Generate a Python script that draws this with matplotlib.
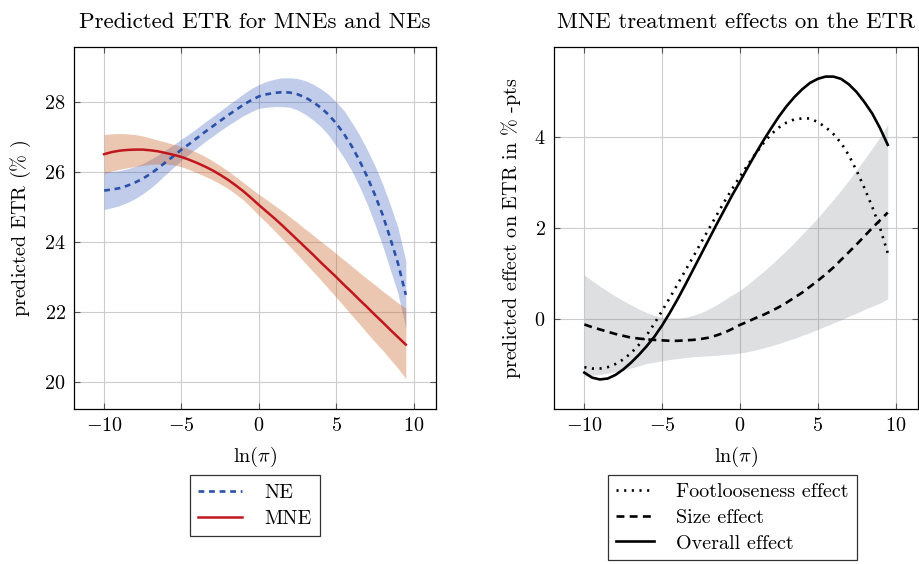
import numpy as np
import matplotlib
matplotlib.use("Agg")
import matplotlib.pyplot as plt

plt.rcParams['font.family'] = 'serif'
plt.rcParams['font.serif'] = ['cmr10', 'DejaVu Serif']
plt.rcParams['mathtext.fontset'] = 'cm'
plt.rcParams['axes.formatter.use_mathtext'] = True

COLOR_NE = '#2b52a8'
COLOR_MNE = '#c0161e'
FILL_NE = '#3f5fbf'
FILL_MNE = '#cc6a30'
FILL_SIZE = '#888c94'
FS = 14.5

# left panel: predicted ETR (steps of 0.5)
x_etr = [-10, -9.5, -9, -8.5, -8, -7.5, -7, -6.5, -6, -5.5, -5, -4.5, -4, -3.5, -3, -2.5,
         -2, -1.5, -1, -0.5, 0, 0.5, 1, 1.5, 2, 2.5, 3, 3.5, 4, 4.5, 5, 5.5, 6, 6.5, 7,
         7.5, 8, 8.5, 9, 9.5]
ne_mean = [25.47, 25.50, 25.54, 25.61, 25.70, 25.81, 25.95, 26.11, 26.29, 26.46, 26.64,
           26.80, 26.97, 27.14, 27.30, 27.46, 27.62, 27.77, 27.92, 28.05, 28.16, 28.22,
           28.26, 28.28, 28.27, 28.22, 28.13, 28.00, 27.84, 27.64, 27.39, 27.09, 26.74,
           26.33, 25.87, 25.35, 24.78, 24.10, 23.38, 22.49]
ne_upper = [26.01, 26.02, 26.04, 26.09, 26.16, 26.24, 26.36, 26.49, 26.64, 26.78, 26.94,
            27.09, 27.25, 27.42, 27.58, 27.74, 27.91, 28.07, 28.23, 28.38, 28.50, 28.59,
            28.65, 28.69, 28.69, 28.67, 28.61, 28.51, 28.38, 28.22, 28.00, 27.76, 27.42,
            27.06, 26.64, 26.18, 25.66, 25.06, 24.40, 23.46]
ne_lower = [24.93, 24.98, 25.04, 25.13, 25.24, 25.38, 25.54, 25.73, 25.94, 26.14, 26.34,
            26.51, 26.69, 26.86, 27.02, 27.18, 27.33, 27.47, 27.61, 27.72, 27.82, 27.85,
            27.87, 27.87, 27.85, 27.77, 27.65, 27.49, 27.30, 27.06, 26.74, 26.41, 26.04,
            25.59, 25.09, 24.51, 23.90, 23.21, 22.52, 21.53]
mne_mean = [26.51, 26.57, 26.61, 26.63, 26.64, 26.64, 26.62, 26.59, 26.54, 26.49, 26.43,
            26.35, 26.26, 26.16, 26.05, 25.92, 25.78, 25.62, 25.45, 25.26, 25.06, 24.87,
            24.68, 24.48, 24.27, 24.06, 23.85, 23.64, 23.42, 23.21, 23.00, 22.78, 22.57,
            22.35, 22.14, 21.92, 21.71, 21.49, 21.28, 21.07]
mne_upper = [27.07, 27.09, 27.10, 27.09, 27.07, 27.03, 26.97, 26.91, 26.85, 26.79, 26.73,
             26.65, 26.56, 26.45, 26.32, 26.18, 26.03, 25.87, 25.70, 25.53, 25.36, 25.21,
             25.05, 24.89, 24.72, 24.55, 24.37, 24.20, 24.02, 23.85, 23.67, 23.49, 23.31,
             23.13, 22.95, 22.78, 22.60, 22.43, 22.26, 22.11]
mne_lower = [25.96, 26.03, 26.08, 26.12, 26.16, 26.19, 26.22, 26.23, 26.23, 26.20, 26.15,
             26.07, 25.98, 25.88, 25.78, 25.66, 25.53, 25.37, 25.20, 24.99, 24.76, 24.55,
             24.33, 24.10, 23.87, 23.64, 23.40, 23.16, 22.92, 22.67, 22.42, 22.17, 21.91,
             21.66, 21.40, 21.15, 20.91, 20.65, 20.39, 20.10]

# right panel: treatment effects (same x steps)
x_eff = x_etr
foot_eff = [-1.06, -1.09, -1.09, -1.06, -0.99, -0.89, -0.75, -0.57, -0.36, -0.10, 0.18,
            0.47, 0.77, 1.07, 1.37, 1.68, 1.98, 2.28, 2.58, 2.86, 3.13, 3.39, 3.63, 3.86,
            4.06, 4.21, 4.32, 4.39, 4.41, 4.41, 4.33, 4.22, 4.07, 3.87, 3.60, 3.26, 2.88,
            2.47, 2.01, 1.45]
size_eff = [-0.12, -0.18, -0.23, -0.28, -0.33, -0.37, -0.41, -0.43, -0.45, -0.46, -0.47,
            -0.48, -0.48, -0.47, -0.46, -0.44, -0.41, -0.36, -0.30, -0.22, -0.13, -0.06,
            0.02, 0.09, 0.17, 0.26, 0.36, 0.47, 0.58, 0.71, 0.84, 0.98, 1.13, 1.30, 1.47,
            1.64, 1.82, 2.00, 2.17, 2.34]
size_upper = [0.97, 0.84, 0.72, 0.61, 0.50, 0.40, 0.31, 0.22, 0.14, 0.08, 0.04, 0.02,
              0.02, 0.04, 0.08, 0.14, 0.22, 0.31, 0.42, 0.53, 0.63, 0.76, 0.90, 1.04,
              1.19, 1.35, 1.51, 1.68, 1.86, 2.04, 2.22, 2.42, 2.62, 2.83, 3.05, 3.28,
              3.51, 3.75, 4.00, 4.28]
size_lower = [-1.26, -1.24, -1.22, -1.19, -1.16, -1.12, -1.08, -1.03, -0.98, -0.95, -0.92,
              -0.89, -0.87, -0.85, -0.83, -0.82, -0.81, -0.80, -0.78, -0.77, -0.75, -0.72,
              -0.68, -0.64, -0.59, -0.54, -0.48, -0.43, -0.36, -0.30, -0.23, -0.16, -0.09,
              -0.02, 0.06, 0.13, 0.21, 0.28, 0.35, 0.44]
overall_eff = [-1.18, -1.29, -1.33, -1.31, -1.23, -1.11, -0.96, -0.79, -0.60, -0.39, -0.14,
               0.14, 0.44, 0.76, 1.09, 1.42, 1.75, 2.08, 2.40, 2.72, 3.02, 3.33, 3.63, 3.92,
               4.19, 4.45, 4.68, 4.88, 5.05, 5.19, 5.28, 5.33, 5.33, 5.28, 5.16, 4.99, 4.77,
               4.52, 4.20, 3.83]

fig = plt.figure(figsize=(9.2, 5.64), dpi=100)
ax1 = fig.add_axes([0.0804, 0.2748, 0.3935, 0.6418])
ax2 = fig.add_axes([0.6022, 0.2748, 0.3957, 0.6418])

for ax in (ax1, ax2):
    ax.grid(True, color='#cccccc', lw=0.8)
    ax.set_axisbelow(True)
    ax.tick_params(direction='in', top=True, right=True, length=4, width=0.8,
                   color='#555555', labelsize=FS, pad=6)
    for s in ax.spines.values():
        s.set_linewidth(0.9)
    ax.set_xticks(range(-10, 11, 5))
    ax.set_xlim(-11.95, 11.45)
    ax.set_xlabel(r'$\ln(\pi)$', fontsize=FS, labelpad=7)

# left
ax1.fill_between(x_etr, ne_lower, ne_upper, color=FILL_NE, alpha=0.32, lw=0)
ax1.fill_between(x_etr, mne_lower, mne_upper, color=FILL_MNE, alpha=0.38, lw=0)
ax1.plot(x_etr, ne_mean, color=COLOR_NE, lw=1.9, ls=(0, (2.2, 1.8)), label='NE')
ax1.plot(x_etr, mne_mean, color=COLOR_MNE, lw=1.8, ls='-', label='MNE')
ax1.set_ylim(19.23, 29.57)
ax1.set_yticks(range(20, 29, 2))
ax1.set_ylabel(r'predicted ETR ($\%$ )', fontsize=FS, labelpad=8)
ax1.set_title('Predicted ETR for MNEs and NEs', fontsize=16.5, pad=14)
leg1 = ax1.legend(loc='upper center', bbox_to_anchor=(0.5, -0.183), fontsize=FS,
                  handlelength=2.2, fancybox=False, edgecolor='#333333', framealpha=1,
                  borderpad=0.42, labelspacing=0.4, handletextpad=1.1, borderaxespad=0)
leg1.get_frame().set_linewidth(0.9)

# right
ax2.fill_between(x_eff, size_lower, size_upper, color=FILL_SIZE, alpha=0.28, lw=0)
ax2.plot(x_eff, foot_eff, color='black', lw=1.9, ls=(0, (0.8, 2.1)), label='Footlooseness effect')
ax2.plot(x_eff, size_eff, color='black', lw=1.9, ls=(0, (3, 2)), label='Size effect')
ax2.plot(x_eff, overall_eff, color='black', lw=1.9, ls='-', label='Overall effect')
ax2.set_ylim(-1.98, 5.98)
ax2.set_yticks([0, 2, 4])
ax2.set_ylabel(r'predicted effect on ETR in $\%$ -pts', fontsize=FS, labelpad=8)
ax2.set_title('MNE treatment effects on the ETR', fontsize=16.5, pad=14)
leg2 = ax2.legend(loc='upper center', bbox_to_anchor=(0.49, -0.183), fontsize=FS,
                  handlelength=1.9, fancybox=False, edgecolor='#333333', framealpha=1,
                  borderpad=0.38, labelspacing=0.38, handletextpad=1.1, borderaxespad=0)
leg2.get_frame().set_linewidth(0.9)

plt.savefig('out.png', dpi=100)
